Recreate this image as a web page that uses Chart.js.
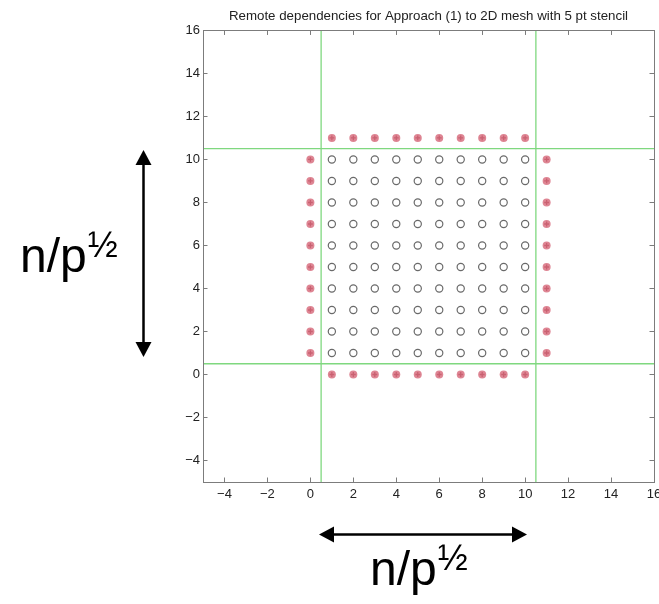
<!DOCTYPE html>
<html>
<head>
<meta charset="utf-8">
<script src="https://cdn.jsdelivr.net/npm/chart.js@4"></script>
<style>
  html, body { margin: 0; padding: 0; background: #fff; }
  canvas { display: block; }
</style>
</head>
<body>
<canvas id="mesh" width="659" height="604"></canvas>
<script>
// Axis limits and ticks
const xRange = [-5, 16];
const yRange = [-5, 16];
const axisTicks = [-4, -2, 0, 2, 4, 6, 8, 10, 12, 14, 16];
const axisTickLabels = ['\u22124', '\u22122', '0', '2', '4', '6', '8', '10', '12', '14', '16'];

// Local block of mesh points owned by one processor
const meshCols = [1, 2, 3, 4, 5, 6, 7, 8, 9, 10];
const meshRows = [1, 2, 3, 4, 5, 6, 7, 8, 9, 10];

// Remote (ghost) rows/columns needed by the 5 point stencil
const haloCols = [0, 11];
const haloRows = [0, 11];

// Processor partition boundaries
const partitionX = [0.5, 10.5];
const partitionY = [0.5, 10.5];

const titleText = 'Remote dependencies for Approach (1) to 2D mesh with 5 pt stencil';
const sizeLabel = 'n/p';
const sizeExp = '\u00BD';

const localPoints = meshRows.flatMap(y => meshCols.map(x => ({ x, y })));
const remotePoints = haloCols.flatMap(x => meshRows.map(y => ({ x, y })))
  .concat(haloRows.flatMap(y => meshCols.map(x => ({ x, y }))));

const green = '#7fd87f';
const lineSets = partitionX.map(x => ({
  data: [{ x, y: yRange[0] }, { x, y: yRange[1] }],
  showLine: true, borderColor: green, borderWidth: 1.3, pointRadius: 0
})).concat(partitionY.map(y => ({
  data: [{ x: xRange[0], y }, { x: xRange[1], y }],
  showLine: true, borderColor: green, borderWidth: 1.3, pointRadius: 0
})));

const FONT = '"Liberation Sans", Arial, Helvetica, sans-serif';

// Box around the axes with inward tick marks on all four sides
const boxTicks = {
  id: 'boxTicks',
  afterDatasetsDraw(chart) {
    const { ctx, chartArea: a, scales } = chart;
    const len = 4.5;
    ctx.save();
    ctx.strokeStyle = '#7c7c7c';
    ctx.lineWidth = 1;
    ctx.beginPath();
    scales.x.ticks.forEach(t => {
      const px = Math.round(scales.x.getPixelForValue(t.value)) + 0.5;
      ctx.moveTo(px, a.bottom); ctx.lineTo(px, a.bottom - len);
      ctx.moveTo(px, a.top); ctx.lineTo(px, a.top + len);
    });
    scales.y.ticks.forEach(t => {
      const py = Math.round(scales.y.getPixelForValue(t.value)) + 0.5;
      ctx.moveTo(a.left, py); ctx.lineTo(a.left + len, py);
      ctx.moveTo(a.right, py); ctx.lineTo(a.right - len, py);
    });
    ctx.stroke();
    ctx.strokeRect(Math.round(a.left) + 0.5, Math.round(a.top) + 0.5,
      Math.round(a.right - a.left), Math.round(a.bottom - a.top));
    ctx.restore();
  }
};

// Double-headed arrows with the block size label
function arrowHead(ctx, tipX, tipY, dx, dy) {
  const L = 15, W = 8;
  const bx = tipX - dx * L, by = tipY - dy * L;
  ctx.beginPath();
  ctx.moveTo(tipX, tipY);
  ctx.lineTo(bx - dy * W, by + dx * W);
  ctx.lineTo(bx + dy * W, by - dx * W);
  ctx.closePath();
  ctx.fill();
}
function sizeText(ctx, x, baseline) {
  ctx.font = '48px ' + FONT;
  ctx.textBaseline = 'alphabetic';
  ctx.textAlign = 'left';
  ctx.fillText(sizeLabel, x, baseline);
  const w = ctx.measureText(sizeLabel).width;
  ctx.font = '36px ' + FONT;
  ctx.fillText(sizeExp, x + w + 1, baseline - 15);
}
const annotations = {
  id: 'annotations',
  afterDraw(chart) {
    const ctx = chart.ctx;
    ctx.save();
    ctx.fillStyle = '#000';
    ctx.strokeStyle = '#000';
    ctx.lineWidth = 2.5;
    // vertical arrow
    const vx = 143.5, vTop = 150, vBot = 357;
    ctx.beginPath(); ctx.moveTo(vx, vTop + 10); ctx.lineTo(vx, vBot - 10); ctx.stroke();
    arrowHead(ctx, vx, vTop, 0, -1);
    arrowHead(ctx, vx, vBot, 0, 1);
    // horizontal arrow
    const hy = 534.5, hL = 319, hR = 527;
    ctx.beginPath(); ctx.moveTo(hL + 10, hy); ctx.lineTo(hR - 10, hy); ctx.stroke();
    arrowHead(ctx, hL, hy, -1, 0);
    arrowHead(ctx, hR, hy, 1, 0);
    sizeText(ctx, 20, 272);
    sizeText(ctx, 370, 585);
    ctx.restore();
  }
};

const tickOpts = {
  color: '#222',
  font: { family: FONT, size: 13 },
  autoSkip: false,
  maxRotation: 0,
  callback: (v, i) => axisTickLabels[i]
};

new Chart(document.getElementById('mesh'), {
  type: 'scatter',
  data: {
    datasets: lineSets.concat([
      {
        data: localPoints,
        pointStyle: 'circle', pointRadius: 3.6,
        backgroundColor: 'rgba(0,0,0,0)', borderColor: '#6a6a6a', borderWidth: 1.2
      },
      {
        data: remotePoints,
        pointStyle: 'circle', pointRadius: 4,
        backgroundColor: 'rgba(216,112,128,0.85)', borderColor: 'rgba(216,112,128,0.85)', borderWidth: 0
      },
      {
        data: remotePoints,
        pointStyle: 'cross', pointRadius: 2.4,
        borderColor: '#7a1020', borderWidth: 1.3
      }
    ])
  },
  options: {
    responsive: false,
    animation: false,
    events: [],
    layout: { padding: { left: 173, right: 5, top: 0, bottom: 102 }, autoPadding: false },
    plugins: {
      legend: { display: false },
      tooltip: { enabled: false },
      title: {
        display: true,
        text: titleText,
        fullSize: false,
        color: '#222',
        font: { family: FONT, size: 13.3, weight: 'normal' },
        padding: { top: 8, bottom: 6.5 }
      }
    },
    scales: {
      x: {
        type: 'linear', min: xRange[0], max: xRange[1],
        afterBuildTicks: s => { s.ticks = axisTicks.map(v => ({ value: v })); },
        afterFit: s => { s.height = 20; s.paddingLeft = 0; s.paddingRight = 0; },
        grid: { display: false, drawTicks: false },
        border: { display: false },
        ticks: Object.assign({ padding: 5 }, tickOpts)
      },
      y: {
        type: 'linear', min: yRange[0], max: yRange[1],
        afterBuildTicks: s => { s.ticks = axisTicks.map(v => ({ value: v })); },
        afterFit: s => { s.width = 30; s.paddingTop = 0; s.paddingBottom = 0; },
        grid: { display: false, drawTicks: false },
        border: { display: false },
        ticks: Object.assign({ padding: 3 }, tickOpts)
      }
    }
  },
  plugins: [boxTicks, annotations]
});
</script>
</body>
</html>
